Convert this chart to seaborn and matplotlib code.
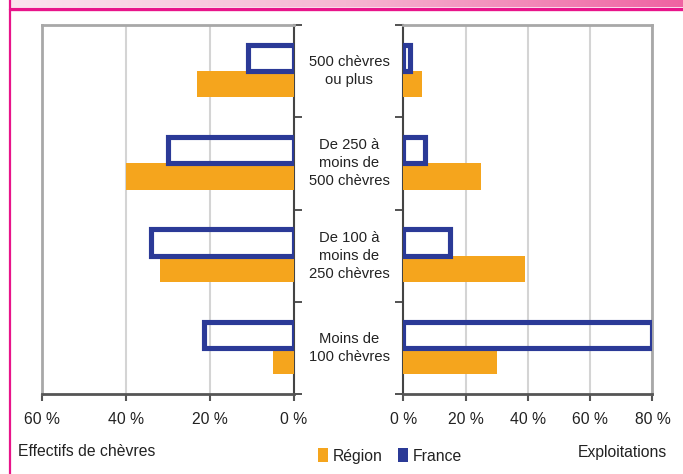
import numpy as np
import pandas as pd
import matplotlib
matplotlib.use('Agg')
import matplotlib.pyplot as plt
import seaborn as sns
from matplotlib.patches import Patch
from matplotlib.lines import Line2D
from matplotlib.colors import LinearSegmentedColormap
from matplotlib.transforms import blended_transform_factory

# ---------------- data ----------------
categories = ["500 chèvres\nou plus",
              "De 250 à\nmoins de\n500 chèvres",
              "De 100 à\nmoins de\n250 chèvres",
              "Moins de\n100 chèvres"]
series = ["France", "Région"]
effectifs_france = [11, 30, 34, 21.5]
effectifs_region = [23, 40, 32, 5]
exploit_france = [2, 7, 15, 80]
exploit_region = [6, 25, 39, 30]
left_ticks = [60, 40, 20, 0]
right_ticks = [0, 20, 40, 60, 80]
left_title = "Effectifs de chèvres"
right_title = "Exploitations"

# ---------------- style ----------------
sns.set_theme(style="white")
plt.rcParams['font.family'] = ['Liberation Sans', 'DejaVu Sans']

ORANGE = '#F5A51D'
NAVY = '#2B3A97'
TEXT = '#222222'
GRID = '#d4d4d4'
GRAY_SPINE = '#a8a8a8'
DARK_SPINE = '#444444'
FS = 11.3
FS_CAT = 10.6


def long_df(fr, rg):
    return pd.DataFrame({
        'cat': categories * 2,
        'serie': ['France'] * len(fr) + ['Région'] * len(rg),
        'val': list(fr) + list(rg),
    })


W, H = 683, 474
fig = plt.figure(figsize=(W / 100, H / 100), dpi=100)


def rect(x0, y0, x1, y1):
    return [x0 / W, 1 - y1 / H, (x1 - x0) / W, (y1 - y0) / H]


axL = fig.add_axes(rect(42, 25, 294, 394))
axR = fig.add_axes(rect(403.5, 25, 652.5, 394))

for ax, fr, rg in [(axL, effectifs_france, effectifs_region),
                   (axR, exploit_france, exploit_region)]:
    sns.barplot(data=long_df(fr, rg), y='cat', x='val', hue='serie',
                hue_order=series, order=categories,
                palette={'France': NAVY, 'Région': ORANGE},
                orient='h', width=0.57, dodge=True, saturation=1,
                legend=False, ax=ax)
    for p in ax.containers[0]:
        p.set_facecolor('none')
        p.set_edgecolor(NAVY)
        p.set_linewidth(3.7)
        p.set_zorder(4)
    for p in ax.containers[1]:
        p.set_edgecolor('none')
        p.set_zorder(3)
    ax.set_xlabel('')
    ax.set_ylabel('')
    ax.set_ylim(len(categories) - 0.5, -0.5)
    ax.set_yticks(np.arange(len(categories) + 1) - 0.5)
    ax.set_yticklabels([])
    ax.set_axisbelow(True)
    ax.xaxis.grid(True, color=GRID, lw=1.5)
    ax.yaxis.grid(False)
    ax.tick_params(axis='x', bottom=True, length=5, width=1.5, color='#555555',
                   pad=8, labelsize=FS, labelcolor=TEXT)
    ax.tick_params(axis='y', length=6, width=1.3, color=DARK_SPINE)
    ax.spines['top'].set_color(GRAY_SPINE)
    ax.spines['top'].set_linewidth(2)
    ax.spines['bottom'].set_color('#555555')
    ax.spines['bottom'].set_linewidth(2)

axL.set_xlim(60, 0)
axL.set_xticks(left_ticks)
axL.set_xticklabels([f"{t} %" for t in left_ticks])
axL.yaxis.tick_right()
axL.tick_params(axis='y', right=True, left=False, direction='out')
axL.spines['left'].set_color(GRAY_SPINE)
axL.spines['left'].set_linewidth(2)
axL.spines['right'].set_color(DARK_SPINE)
axL.spines['right'].set_linewidth(1.5)

axR.set_xlim(0, 80)
axR.set_xticks(right_ticks)
axR.set_xticklabels([f"{t} %" for t in right_ticks])
axR.yaxis.tick_left()
axR.tick_params(axis='y', left=True, right=False, direction='out')
axR.spines['right'].set_color(GRAY_SPINE)
axR.spines['right'].set_linewidth(2)
axR.spines['left'].set_color(DARK_SPINE)
axR.spines['left'].set_linewidth(1.5)

# category labels between the panels
tr = blended_transform_factory(fig.transFigure, axL.transData)
for i, c in enumerate(categories):
    axL.text(349 / W, i, c, transform=tr, ha='center', va='center',
             fontsize=FS_CAT, color=TEXT, linespacing=1.36, clip_on=False)

# bottom texts
fig.text(18 / W, 1 - 452 / H, left_title, ha='left', va='center',
         fontsize=FS, color=TEXT)
fig.text(667 / W, 1 - 452 / H, right_title, ha='right', va='center',
         fontsize=FS, color=TEXT)

handles = [Patch(facecolor=ORANGE, edgecolor='none', label='Région'),
           Patch(facecolor=NAVY, edgecolor='none', label='France')]
fig.legend(handles=handles, loc='center', bbox_to_anchor=(390 / W, 1 - 456 / H),
           ncol=2, frameon=False, handlelength=0.65, handleheight=1.0,
           handletextpad=0.3, columnspacing=1.0, fontsize=FS,
           labelcolor=TEXT)

# pink banner and frame
axB = fig.add_axes(rect(10, 0, 683, 7.5))
grad = np.linspace(0, 1, 256).reshape(1, -1)
cmap = LinearSegmentedColormap.from_list('pk', ['#FBE4EF', '#F6B6D2', '#EF63A2'])
axB.imshow(grad, aspect='auto', cmap=cmap)
axB.axis('off')
fig.add_artist(Line2D([10 / W, 1], [1 - 8.7 / H] * 2, color='#E8148A', lw=2.4))
fig.add_artist(Line2D([10.3 / W] * 2, [0, 1], color='#E8148A', lw=1.6))

fig.savefig('out.png', dpi=100)
